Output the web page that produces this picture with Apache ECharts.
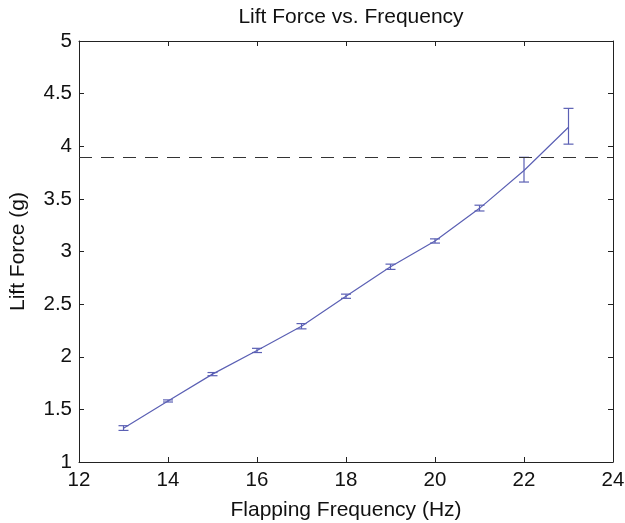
<!DOCTYPE html>
<html>
<head>
<meta charset="utf-8">
<script src="https://cdn.jsdelivr.net/npm/echarts@6/dist/echarts.min.js"></script>
<style>
html,body{margin:0;padding:0;background:#fff;}
#chart{width:625px;height:523px;}
</style>
</head>
<body>
<div id="chart"></div>
<script>
var frequency = [13, 14, 15, 16, 17, 18, 19, 20, 21, 22, 23];
var liftForce = [1.32, 1.58, 1.835, 2.06, 2.29, 2.575, 2.855, 3.10, 3.41, 3.77, 4.18];
var errLow = [1.30, 1.57, 1.82, 2.04, 2.265, 2.555, 2.83, 3.08, 3.385, 3.66, 4.02];
var errHigh = [1.345, 1.59, 1.85, 2.08, 2.315, 2.595, 2.88, 3.12, 3.44, 3.895, 4.36];
var thresholdValue = 3.9;

var lineData = frequency.map(function(f, i){ return [f, liftForce[i]]; });
var errData = frequency.map(function(f, i){ return [f, errLow[i], errHigh[i]]; });

var font = 'Liberation Sans, Arial, Helvetica, sans-serif';
var blue = '#5b60b4';

var chart = echarts.init(document.getElementById('chart'));
chart.setOption({
  backgroundColor: '#fff',
  animation: false,
  title: {
    text: 'Lift Force vs. Frequency',
    left: 346, top: 2, textAlign: 'center',
    textStyle: {fontFamily: font, fontSize: 21, fontWeight: 'normal', color: '#111'}
  },
  grid: {left: 79, right: 12, top: 41, bottom: 61, containLabel: false, outerBoundsMode: 'none'},
  xAxis: [{
    type: 'value', min: 12, max: 24, interval: 2,
    name: 'Flapping Frequency (Hz)', nameLocation: 'middle', nameGap: 38,
    nameTextStyle: {fontFamily: font, fontSize: 21, color: '#111'},
    axisLine: {show: true, onZero: false, lineStyle: {color: '#222', width: 1}},
    axisTick: {show: true, inside: true, length: 5, lineStyle: {color: '#222'}},
    axisLabel: {fontFamily: font, fontSize: 20.5, color: '#111', margin: 8},
    splitLine: {show: false}
  }, {
    type: 'value', min: 12, max: 24, interval: 2, position: 'top',
    axisLine: {show: true, onZero: false, lineStyle: {color: '#222', width: 1}},
    axisTick: {show: true, inside: true, length: 5, lineStyle: {color: '#222'}},
    axisLabel: {show: false}, splitLine: {show: false}
  }],
  yAxis: [{
    type: 'value', min: 1, max: 5, interval: 0.5,
    name: 'Lift Force (g)', nameLocation: 'middle', nameGap: 50, nameRotate: 90,
    nameTextStyle: {fontFamily: font, fontSize: 21, color: '#111'},
    axisLine: {show: true, onZero: false, lineStyle: {color: '#222', width: 1}},
    axisTick: {show: true, inside: true, length: 5, lineStyle: {color: '#222'}},
    axisLabel: {fontFamily: font, fontSize: 20.5, color: '#111', margin: 7},
    splitLine: {show: false}
  }, {
    type: 'value', min: 1, max: 5, interval: 0.5, position: 'right',
    axisLine: {show: true, onZero: false, lineStyle: {color: '#222', width: 1}},
    axisTick: {show: true, inside: true, length: 5, lineStyle: {color: '#222'}},
    axisLabel: {show: false}, splitLine: {show: false}
  }],
  series: [{
    type: 'line',
    data: lineData,
    showSymbol: false,
    lineStyle: {color: blue, width: 1.2},
    itemStyle: {color: blue},
    markLine: {
      silent: true, symbol: 'none', label: {show: false},
      lineStyle: {color: '#333', type: [13, 9], width: 1.2},
      data: [{yAxis: thresholdValue}]
    },
    z: 3
  }, {
    type: 'custom',
    data: errData,
    renderItem: function(params, api){
      var x = api.value(0);
      var lo = api.coord([x, api.value(1)]);
      var hi = api.coord([x, api.value(2)]);
      var hw = 5;
      var st = {stroke: blue, lineWidth: 1.2, fill: null};
      return {type: 'group', children: [
        {type: 'line', shape: {x1: lo[0], y1: lo[1], x2: hi[0], y2: hi[1]}, style: st},
        {type: 'line', shape: {x1: lo[0]-hw, y1: lo[1], x2: lo[0]+hw, y2: lo[1]}, style: st},
        {type: 'line', shape: {x1: hi[0]-hw, y1: hi[1], x2: hi[0]+hw, y2: hi[1]}, style: st}
      ]};
    },
    z: 4
  }]
});
</script>
</body>
</html>
